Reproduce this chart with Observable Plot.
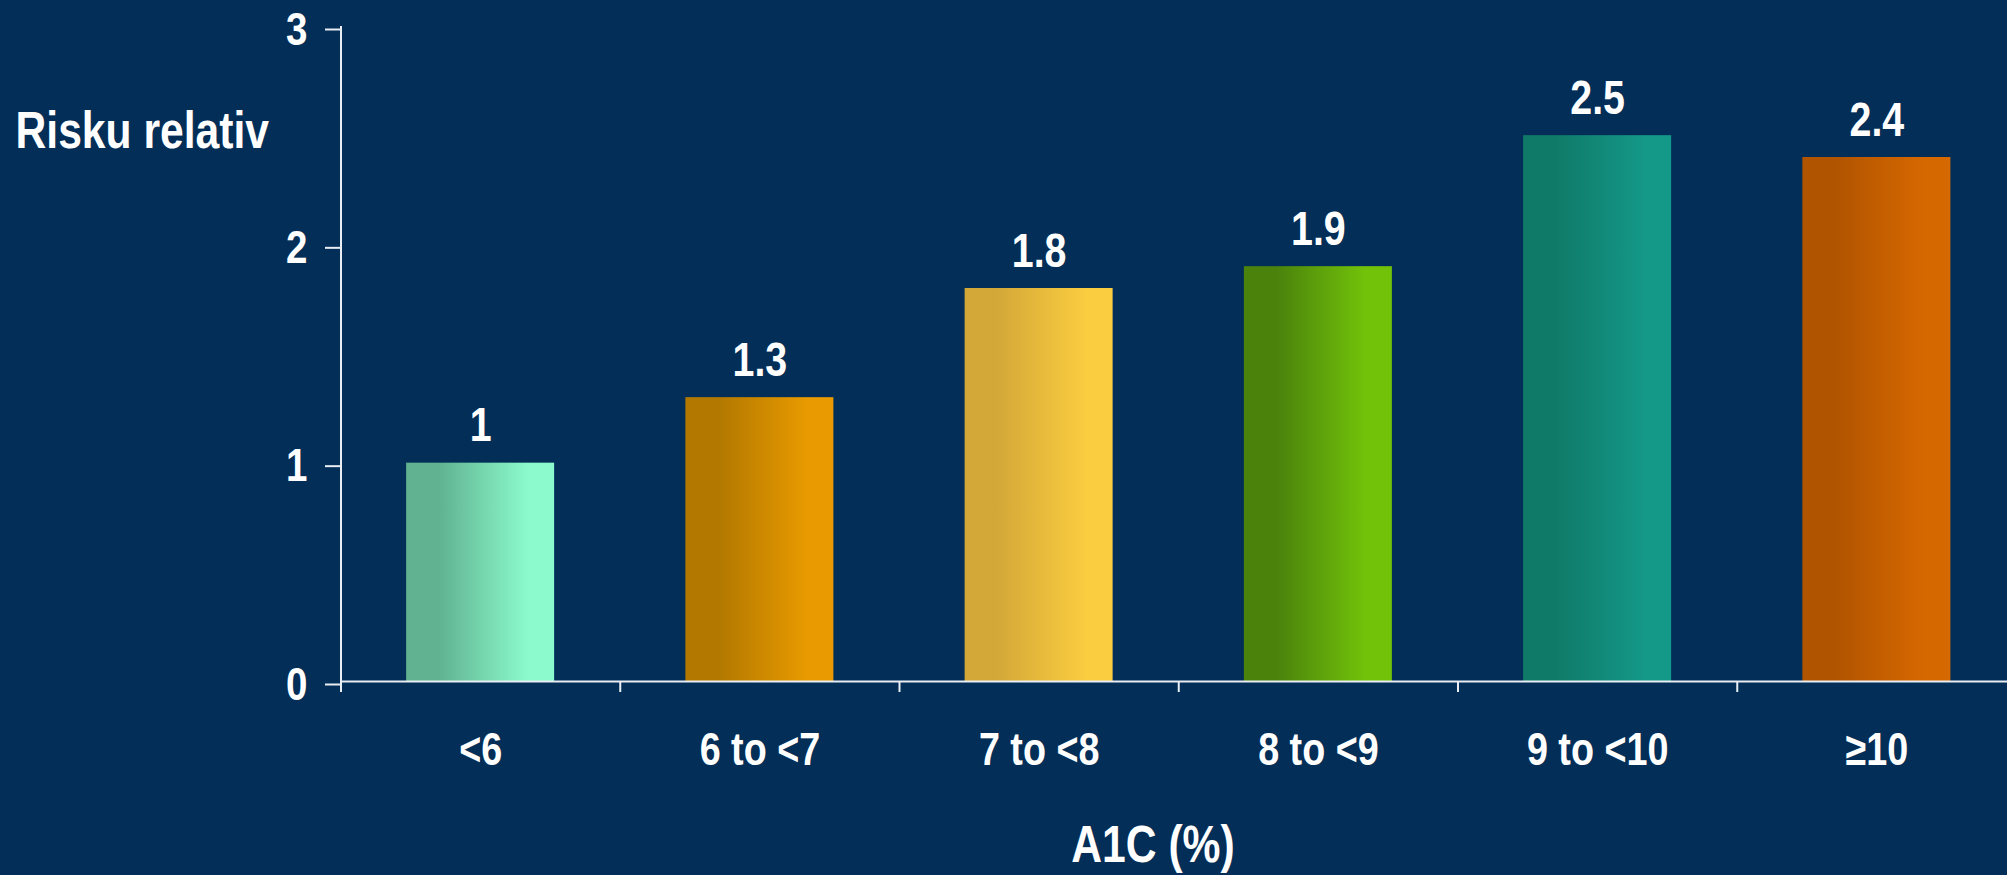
<!DOCTYPE html>
<html>
<head>
<meta charset="utf-8">
<script src="https://cdn.jsdelivr.net/npm/d3@7"></script>
<script src="https://cdn.jsdelivr.net/npm/@observablehq/plot@0.6"></script>
<style>
  html, body { margin: 0; padding: 0; background: #032e57; overflow: hidden; }
  #chart svg { display: block; }
</style>
</head>
<body>
<div id="chart"></div>
<script>
// Relative risk by A1C band
const categories = ["<6", "6 to <7", "7 to <8", "8 to <9", "9 to <10", "≥10"];
const relativeRisk = [1, 1.3, 1.8, 1.9, 2.5, 2.4];
const yTicks = [0, 1, 2, 3];
const yLabel = "Risku relativ";
const xLabel = "A1C (%)";

// Each bar is shaded left (darker) to right (lighter)
const barDark = ["#60b290", "#b27800", "#d4a838", "#4a820c", "#107a68", "#b05400"];
const barLight = ["#8cfacd", "#e89a00", "#facc40", "#72c20a", "#149888", "#d66800"];

const rows = categories.map((category, i) => ({
  category,
  index: i,
  risk: relativeRisk[i],
  fill: `url(#bar-fill-${i})`
}));

const fontStack = '"Liberation Sans", Arial, sans-serif';
const narrow = 0.82; // horizontal squeeze for a narrow bold face
const axisColor = "#e8eef4";

const chart = Plot.plot({
  width: 2007,
  height: 875,
  marginTop: 26,
  marginBottom: 194,
  marginLeft: 340,
  marginRight: 0,
  style: { background: "#032e57", color: "white", fontFamily: fontStack, fontWeight: "bold", overflow: "hidden" },
  x: { type: "linear", domain: [0, categories.length], range: [340.5, 2016], axis: null },
  y: { domain: [0, 3], axis: null },
  color: { type: "identity" },
  marks: [
    Plot.rectY(rows, {
      x1: d => d.index + 0.235,
      x2: d => d.index + 0.765,
      y: "risk",
      fill: "fill"
    }),
    // x axis baseline and y axis line
    Plot.ruleY([0], { x1: 0, x2: categories.length, stroke: axisColor, strokeWidth: 2 }),
    Plot.ruleX([0], { y1: 0, y2: 3, stroke: axisColor, strokeWidth: 2 }),
    Plot.axisY(yTicks, {
      tickSize: 15, tickPadding: 18, fontSize: 47, label: null,
      tickFormat: d => String(d),
      stroke: axisColor, strokeWidth: 2, fill: "white", dy: 3
    }),
    // category boundary ticks
    Plot.axisX(d3.range(categories.length + 1), {
      tickSize: 11, tickFormat: () => "", label: null, stroke: axisColor, strokeWidth: 2
    }),
    // category names under each band
    Plot.axisX(categories.map((c, i) => i + 0.5), {
      tickSize: 0, tickPadding: 51, fontSize: 46, label: null, fill: "white",
      tickFormat: d => categories[Math.round(d - 0.5)]
    }),
    Plot.text(rows, {
      x: d => d.index + 0.5,
      y: "risk",
      text: d => String(d.risk),
      lineAnchor: "bottom",
      dy: -22,
      fontSize: 48,
      fill: "white"
    }),
    Plot.text([yLabel], {
      frameAnchor: "top-left", textAnchor: "start", lineAnchor: "bottom",
      dx: -325, dy: 121, fontSize: 52, fill: "white"
    }),
    Plot.text([xLabel], {
      frameAnchor: "bottom", lineAnchor: "bottom",
      dx: -21, dy: 180, fontSize: 52, fill: "white"
    })
  ]
});

// Squeeze every label horizontally around its own anchor
d3.select(chart).selectAll("text").each(function () {
  const t = this.getAttribute("transform") || "";
  this.setAttribute("transform", `${t} scale(${narrow},1)`.trim());
});

// Horizontal gradients referenced by the bar fills
const defs = d3.select(chart).insert("defs", ":first-child");
barDark.forEach((dark, i) => {
  const g = defs.append("linearGradient")
    .attr("id", `bar-fill-${i}`)
    .attr("x1", 0).attr("y1", 0).attr("x2", 1).attr("y2", 0);
  g.append("stop").attr("offset", "0%").attr("stop-color", dark);
  g.append("stop").attr("offset", "22%").attr("stop-color", dark);
  g.append("stop").attr("offset", "82%").attr("stop-color", barLight[i]);
  g.append("stop").attr("offset", "100%").attr("stop-color", barLight[i]);
});

document.getElementById("chart").appendChild(chart);
</script>
</body>
</html>
